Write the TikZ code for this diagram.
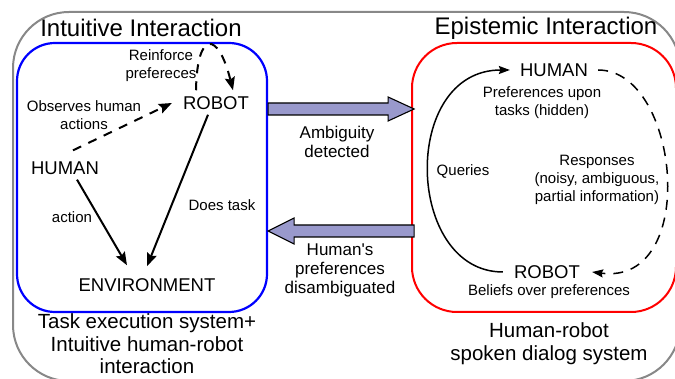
\documentclass[tikz,border=0pt]{standalone}
\usepackage{fontspec}
\setmainfont{Liberation Sans}
\usetikzlibrary{arrows.meta,calc}
\definecolor{arrfill}{RGB}{153,153,204}
\definecolor{outergray}{RGB}{136,136,136}
\begin{document}
\begin{tikzpicture}[x=1pt,y=-1pt,
  titletext/.style={font=\fontsize{24}{28}\selectfont, inner sep=0pt},
  bigtext/.style={font=\fontsize{18.5}{22}\selectfont, inner sep=0pt},
  lbl/.style={font=\fontsize{15}{18}\selectfont, align=center, inner sep=0pt},
  midtext/.style={font=\fontsize{17}{19}\selectfont, align=center, inner sep=0pt},
  captext/.style={font=\fontsize{20.5}{22.5}\selectfont, align=center, inner sep=0pt},
  thick arrow/.style={line width=2pt, -{Stealth[length=13pt,width=10pt,inset=2pt]}},
  dash arrow/.style={line width=2pt, dash pattern=on 9pt off 8pt, -{Stealth[length=13pt,width=10pt,inset=2pt]}},
  loop arrow/.style={line width=1.5pt, -{Stealth[length=11pt,width=8pt,inset=1.5pt]}},
  loop dash/.style={line width=1.5pt, dash pattern=on 10pt off 8pt, -{Stealth[length=11pt,width=8pt,inset=1.5pt]}},
  bigarr/.style={draw=black, line width=1.1pt, fill=arrfill, line join=miter},
  boxstyle/.style={draw, line width=2.2pt, inner sep=0pt}
]
\useasboundingbox (0,0) rectangle (675,379);
\clip (0,0) rectangle (675,379);
% outer gray frame
\draw[outergray, line width=2pt, rounded corners=56pt] (13,12) rectangle (680,381);
% inner boxes
\node[boxstyle, draw=blue, rounded corners=38pt, minimum width=250pt, minimum height=269pt] (blue) at (142,177.5) {};
\node[boxstyle, draw=red, line width=2pt, rounded corners=45pt, minimum width=264pt, minimum height=269pt] (red) at (544,177.5) {};
% titles
\node[titletext] (t1) at (141,28) {Intuitive Interaction};
\node[titletext] (t2) at (546,28) {Epistemic Interaction};
% left box content
\node[bigtext] (lH) at (65,168) {HUMAN};
\node[bigtext] (lR) at (216,103) {ROBOT};
\node[bigtext] (lE) at (147,285) {ENVIRONMENT};
\node[lbl] (reinf) at (161,66) {Reinforce\\prefereces};
\node[lbl] (obs) at (84,115) {Observes human\\actions};
\node[lbl] (act) at (72,217) {action};
\node[lbl] (does) at (222,205) {Does task};
\draw[dash arrow] ([shift={(8,-11)}]lH.north) -- ([xshift=-11pt]lR.west);
\draw[dash arrow] ([shift={(-20,-6)}]lR.north) .. controls +(1,-60) and +(-15,-60) .. ([shift={(17,-6)}]lR.north);
\draw[thick arrow] ([shift={(-8,5)}]lR.south) -- ([shift={(0,-12)}]lE.north);
\draw[thick arrow] ([shift={(12,5)}]lH.south) -- ([shift={(-20,-13)}]lE.north);
% big arrows
\coordinate (a1) at (blue.east |- 0,109);
\draw[bigarr] (a1) ++(0,-6) -- ++(120,0) -- ++(0,-6) -- ++(26,12) -- ++(-26,12) -- ++(0,-6) -- ++(-120,0) -- cycle;
\coordinate (a2) at (blue.east |- 0,231);
\draw[bigarr] (a2) -- ++(26,-13) -- ++(0,7) -- ++(120,0) -- ++(0,12) -- ++(-120,0) -- ++(0,7) -- cycle;
\node[midtext] (amb) at (337,142) {Ambiguity\\detected};
\node[midtext] (hp) at (340,270) {Human\textquotesingle s\\preferences\\disambiguated};
% right box content
\node[bigtext] (rH) at (554,70) {HUMAN};
\node[bigtext] (rR) at (547,272) {ROBOT};
\node[lbl] (pref) at (542,103) {Preferences upon\\tasks (hidden)};
\node[lbl] (que) at (463,171) {Queries};
\node[lbl] (resp) at (597,180) {Responses\\(noisy, ambiguous,\\partial information)};
\node[lbl] (bel) at (549,292) {Beliefs over preferences};
\draw[loop arrow] ([xshift=-11pt]rR.west) .. controls +(-98,0) and +(-110,0) .. ([xshift=-10pt]rH.west);
\draw[loop dash] ([xshift=10pt]rH.east) .. controls +(82,0) and +(108,14) .. ([xshift=12pt]rR.east);
% captions
\node[captext] (c1) at (147,344) {Task execution system+\\Intuitive human-robot\\interaction};
\node[captext] (c2) at (549,343.5) {Human-robot\\spoken dialog system};
\end{tikzpicture}
\end{document}
